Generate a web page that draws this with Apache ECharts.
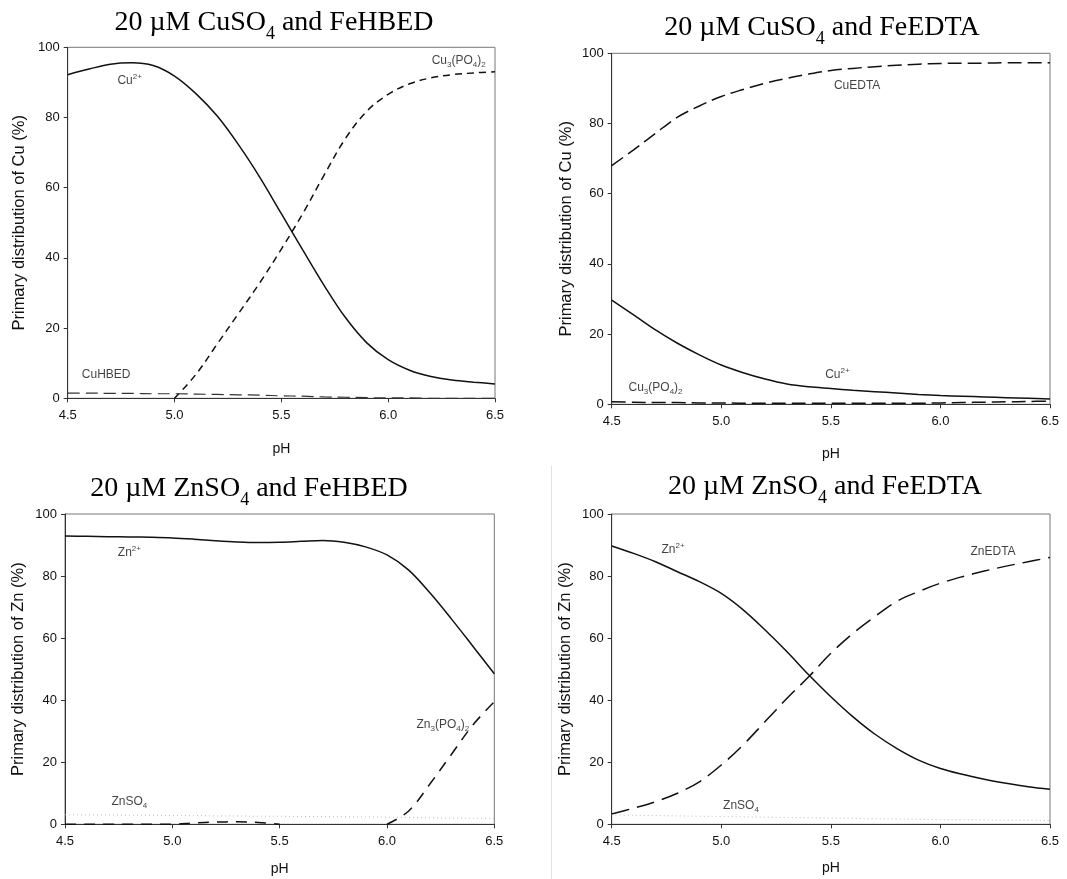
<!DOCTYPE html>
<html>
<head>
<meta charset="utf-8">
<title>Cu and Zn speciation</title>
<script src="https://cdn.jsdelivr.net/npm/echarts@6/dist/echarts.min.js"></script>
<style>
  html, body { margin: 0; padding: 0; background: #fff; }
  #chart { width: 1067px; height: 879px; }
</style>
</head>
<body>
<div id="chart"></div>
<script>
// pH steps shared by all panels
const pH = [4.5, 4.6, 4.7, 4.8, 4.9, 5.0, 5.1, 5.2, 5.3, 5.4, 5.5, 5.6, 5.7, 5.8, 5.9, 6.0, 6.1, 6.2, 6.3, 6.4, 6.5];

// 20 uM CuSO4 + FeHBED
const hbedCu2 = [92.2, 93.8, 95.2, 95.6, 94.8, 91.8, 86.8, 80.4, 72.2, 62.9, 52.6, 42.3, 32.2, 23.0, 15.8, 11.0, 8.0, 6.2, 5.2, 4.6, 4.1];
const hbedCuPO4 = [null, null, null, null, null, 0, 6.8, 15.5, 24.2, 33.0, 42.5, 52.6, 63.6, 74.0, 81.8, 86.6, 89.6, 91.3, 92.2, 92.7, 93.0];
const hbedCuHBED = [1.5, 1.5, 1.4, 1.4, 1.3, 1.3, 1.2, 1.1, 1.0, 0.9, 0.7, 0.6, 0.4, 0.3, 0.2, 0.1, 0.1, 0, 0, 0, 0];

// 20 uM CuSO4 + FeEDTA
const edtaCuEDTA = [68.0, 72.5, 77.2, 81.8, 85.0, 87.7, 89.7, 91.5, 92.9, 94.1, 95.1, 95.7, 96.2, 96.6, 96.9, 97.1, 97.2, 97.2, 97.3, 97.3, 97.3];
const edtaCu2 = [29.7, 25.5, 21.2, 17.4, 14.1, 11.2, 9.0, 7.2, 5.8, 5.0, 4.5, 4.0, 3.6, 3.2, 2.8, 2.5, 2.3, 2.1, 1.9, 1.7, 1.5];
const edtaCuPO4 = [0.7, 0.6, 0.5, 0.5, 0.4, 0.4, 0.3, 0.3, 0.3, 0.3, 0.3, 0.3, 0.3, 0.3, 0.3, 0.4, 0.5, 0.6, 0.7, 0.8, 0.9];

// 20 uM ZnSO4 + FeHBED
const hbedZn2 = [92.9, 92.8, 92.7, 92.6, 92.5, 92.3, 91.9, 91.4, 91.0, 90.8, 90.9, 91.2, 91.5, 90.9, 89.4, 86.8, 82.0, 74.6, 66.2, 57.4, 48.5];
const hbedZnPO4 = [0, 0, 0, 0, 0, 0, 0.4, 0.7, 0.8, 0.6, 0, null, null, null, null, 0, 4.2, 13.0, 22.5, 32.0, 39.5];
const hbedZnSO4 = [3.1, 3.0, 3.0, 2.9, 2.9, 2.8, 2.8, 2.7, 2.7, 2.6, 2.6, 2.5, 2.5, 2.4, 2.4, 2.3, 2.2, 2.1, 2.0, 2.0, 1.9];

// 20 uM ZnSO4 + FeEDTA
const edtaZn2 = [89.7, 87.3, 84.6, 81.4, 78.2, 74.4, 69.1, 62.6, 55.6, 48.1, 41.1, 34.7, 29.1, 24.5, 20.7, 18.0, 16.1, 14.5, 13.2, 12.1, 11.3];
const edtaZnEDTA = [3.3, 5.2, 7.3, 10.0, 13.7, 19.1, 25.6, 33.1, 40.6, 47.6, 55.1, 61.5, 66.9, 71.8, 75.0, 77.7, 79.8, 81.6, 83.2, 84.6, 86.0];
const edtaZnSO4 = [3.0, 2.9, 2.8, 2.7, 2.6, 2.5, 2.4, 2.3, 2.2, 2.1, 2.0, 1.9, 1.8, 1.7, 1.6, 1.5, 1.5, 1.4, 1.3, 1.3, 1.2];

// curve labels: [pH, %, text]
const hbedCuNotes = [[4.79, 90.5, '{t|Cu}{sup|2+}'], [4.68, 6.6, '{t|CuHBED}'], [6.33, 96.2, '{t|Cu}{sub|3}{t|(PO}{sub|4}{t|)}{sub|2}']];
const edtaCuNotes = [[5.62, 90.7, '{t|CuEDTA}'], [5.53, 8.3, '{t|Cu}{sup|2+}'], [4.70, 4.6, '{t|Cu}{sub|3}{t|(PO}{sub|4}{t|)}{sub|2}']];
const hbedZnNotes = [[4.80, 87.5, '{t|Zn}{sup|2+}'], [6.26, 32.0, '{t|Zn}{sub|3}{t|(PO}{sub|4}{t|)}{sub|2}'], [4.80, 7.3, '{t|ZnSO}{sub|4}']];
const edtaZnNotes = [[4.78, 88.4, '{t|Zn}{sup|2+}'], [6.24, 87.9, '{t|ZnEDTA}'], [5.09, 5.9, '{t|ZnSO}{sub|4}']];

const SANS = "'Liberation Sans', Arial, sans-serif";
const SERIF = "'Liberation Serif', 'Times New Roman', serif";

const pairs = arr => pH.map((x, i) => [x, arr[i]]);

const solid = {color: "#111", width: 1.5, type: "solid"};
const dash = (d, c, w) => ({color: c || "#111", width: w || 1.5, type: d});
const dotted = {color: "#bbb", width: 1, type: [1, 3]};

const panels = [
  {
    grid: {left: 67.7, top: 47.3, width: 427.3, height: 351},
    title: {x: 274, y: 8, text: "{a|20 µM CuSO}{s|4}{a| and FeHBED}"},
    yName: "Primary distribution of Cu (%)", yGap: 40, xGap: 44,
    lines: [
      {name: "Cu2+", data: hbedCu2, style: solid},
      {name: "Cu3(PO4)2", data: hbedCuPO4, style: dash([7, 5])},
      {name: "CuHBED", data: hbedCuHBED, style: dash([12, 6], "#333", 1.2)}
    ],
    notes: hbedCuNotes
  },
  {
    grid: {left: 611.7, top: 53.3, width: 438.3, height: 351},
    title: {x: 822, y: 13, text: "{a|20 µM CuSO}{s|4}{a| and FeEDTA}"},
    yName: "Primary distribution of Cu (%)", yGap: 37, xGap: 43,
    lines: [
      {name: "CuEDTA", data: edtaCuEDTA, style: dash([14, 6])},
      {name: "Cu2+", data: edtaCu2, style: solid},
      {name: "Cu3(PO4)2", data: edtaCuPO4, style: dash([14, 6])}
    ],
    notes: edtaCuNotes
  },
  {
    grid: {left: 65, top: 514, width: 429.3, height: 310.3},
    title: {x: 249, y: 474, text: "{a|20 µM ZnSO}{s|4}{a| and FeHBED}"},
    yName: "Primary distribution of Zn (%)", yGap: 38, xGap: 38,
    lines: [
      {name: "Zn2+", data: hbedZn2, style: solid},
      {name: "Zn3(PO4)2", data: hbedZnPO4, style: dash([11, 8])},
      {name: "ZnSO4", data: hbedZnSO4, style: dotted}
    ],
    notes: hbedZnNotes
  },
  {
    grid: {left: 611.7, top: 514, width: 438.3, height: 310.3},
    title: {x: 825, y: 472, text: "{a|20 µM ZnSO}{s|4}{a| and FeEDTA}"},
    yName: "Primary distribution of Zn (%)", yGap: 38, xGap: 37,
    lines: [
      {name: "Zn2+", data: edtaZn2, style: solid},
      {name: "ZnEDTA", data: edtaZnEDTA, style: dash([18, 8])},
      {name: "ZnSO4", data: edtaZnSO4, style: dotted}
    ],
    notes: edtaZnNotes
  }
];

const titleRich = {
  a: {fontFamily: SERIF, fontSize: 28, fontWeight: "normal", color: "#000", lineHeight: 30},
  s: {fontFamily: SERIF, fontSize: 18, fontWeight: "normal", color: "#000", lineHeight: 12, verticalAlign: "top", padding: [17, 0, 0, 0]}
};
const noteRich = {
  t: {fontFamily: SANS, fontSize: 12, color: "#111", lineHeight: 16},
  sup: {fontFamily: SANS, fontSize: 8, color: "#111", lineHeight: 8, verticalAlign: "top"},
  sub: {fontFamily: SANS, fontSize: 8, color: "#111", lineHeight: 8, verticalAlign: "top", padding: [8, 0, 0, 0]}
};

const axisCommon = {
  axisLine: {show: true, onZero: false, lineStyle: {color: "#333", width: 1}},
  axisTick: {show: true, length: 4, lineStyle: {color: "#333"}},
  splitLine: {show: false},
  nameLocation: "middle"
};

const option = {
  backgroundColor: "#fff",
  animation: false,
  title: [],
  grid: [],
  xAxis: [],
  yAxis: [],
  series: [],
  graphic: [{
    type: "line", silent: true,
    shape: {x1: 551.5, y1: 466, x2: 551.5, y2: 879},
    style: {stroke: "#e2e2e2", lineWidth: 1}
  }]
};

panels.forEach((p, i) => {
  option.title.push({
    text: p.title.text, left: p.title.x, top: p.title.y, textAlign: "center", padding: 0,
    textStyle: {fontWeight: "normal", rich: titleRich}
  });
  option.grid.push(Object.assign({show: true, borderColor: "#777", borderWidth: 1, backgroundColor: "transparent"}, p.grid));
  option.xAxis.push(Object.assign({}, axisCommon, {
    gridIndex: i, type: "value", min: 4.5, max: 6.5, interval: 0.5,
    name: "pH", nameGap: p.xGap,
    nameTextStyle: {fontFamily: SANS, fontSize: 14, color: "#111"},
    axisLabel: {fontFamily: SANS, fontSize: 13, color: "#111", margin: 11, formatter: v => v.toFixed(1)}
  }));
  option.yAxis.push(Object.assign({}, axisCommon, {
    gridIndex: i, type: "value", min: 0, max: 100, interval: 20,
    name: p.yName, nameGap: p.yGap,
    nameTextStyle: {fontFamily: SANS, fontSize: 16.5, color: "#111"},
    axisLabel: {fontFamily: SANS, fontSize: 13, color: "#111", margin: 8}
  }));
  p.lines.forEach(l => {
    option.series.push({
      type: "line", name: l.name, xAxisIndex: i, yAxisIndex: i,
      data: pairs(l.data), smooth: 0.35, showSymbol: false, connectNulls: false,
      lineStyle: l.style, silent: true
    });
  });
  option.series.push({
    type: "scatter", xAxisIndex: i, yAxisIndex: i, symbolSize: 1, silent: true, z: 10,
    itemStyle: {color: "transparent"},
    data: p.notes.map(n => ({value: [n[0], n[1]], label: {formatter: n[2]}})),
    label: {show: true, position: "inside", rich: noteRich}
  });
});

const chart = echarts.init(document.getElementById("chart"), null, {renderer: "canvas"});
chart.setOption(option);
</script>
</body>
</html>
